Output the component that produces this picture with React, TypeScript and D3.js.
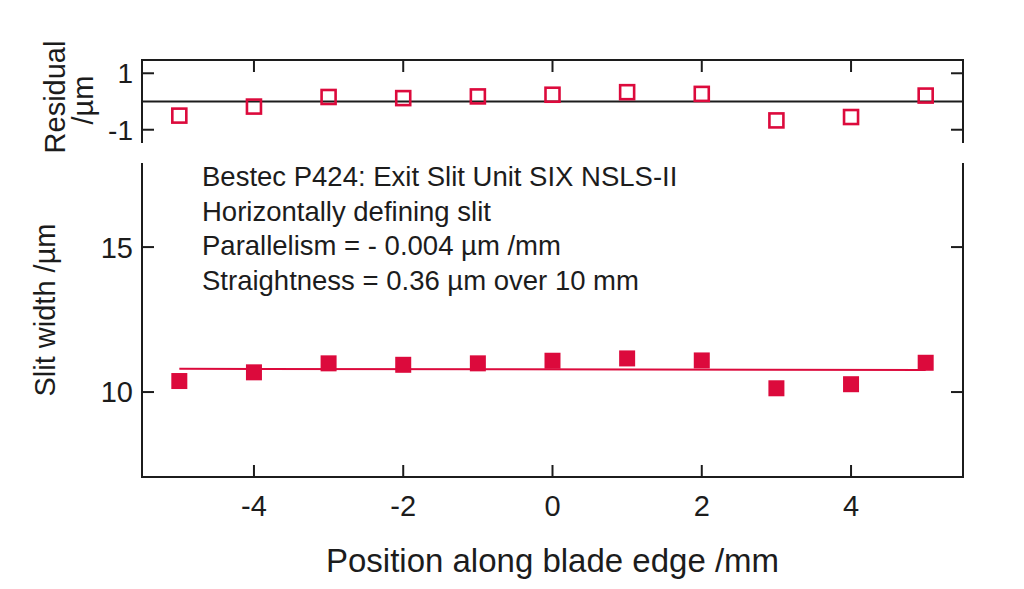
import React from "react";
import * as d3 from "d3";

const positions = [-5, -4, -3, -2, -1, 0, 1, 2, 3, 4, 5];
const slitWidth = [10.38, 10.68, 10.99, 10.94, 10.99, 11.08, 11.16, 11.09, 10.13, 10.27, 11.01];
const residuals = [-0.5, -0.18, 0.16, 0.12, 0.18, 0.24, 0.33, 0.27, -0.67, -0.55, 0.21];
const fitStart = { x: -5, y: 10.8 };
const fitEnd = { x: 5, y: 10.76 };
const xTicks = [-4, -2, 0, 2, 4];
const resTicks = [1, -1];
const widthTicks = [10, 15];
const annotations = [
  "Bestec P424: Exit Slit Unit SIX NSLS-II",
  "Horizontally defining slit",
  "Parallelism = - 0.004 µm /mm",
  "Straightness = 0.36 µm over 10 mm",
];

const RED = "#dc0a3c";
const INK = "#1c1c1c";
const FONT = "'Liberation Sans', Arial, sans-serif";

export default function App() {
  const W = 1024, H = 589;
  const x = d3.scaleLinear().domain([-5.5, 5.5]).range([142, 963]);
  const yr = d3.scaleLinear().domain([-1.47, 1.47]).range([143, 60]);
  const yb = d3.scaleLinear().domain([7.07, 17.9]).range([477, 163]);
  const [L, R] = x.range();
  const tick = 12;
  const sq = 16;
  const hs = 14;

  return (
    <svg width={W} height={H} style={{ position: "absolute", left: 0, top: 0, background: "#fff" }} fontFamily={FONT}>
      <rect width={W} height={H} fill="#fff" />
      {/* Residual panel frame */}
      <g stroke={INK} strokeWidth={2} fill="none">
        <path d={`M${L},${yr.range()[0]}V${yr.range()[1]}H${R}V${yr.range()[0]}`} />
        <line x1={L} x2={R} y1={yr(0)} y2={yr(0)} />
        {xTicks.map((t) => (
          <line key={"rt" + t} x1={x(t)} x2={x(t)} y1={yr.range()[1]} y2={yr.range()[1] + tick} />
        ))}
        {resTicks.map((t) => (
          <g key={"rl" + t}>
            <line x1={L} x2={L + tick} y1={yr(t)} y2={yr(t)} />
            <line x1={R} x2={R - tick} y1={yr(t)} y2={yr(t)} />
          </g>
        ))}
      </g>
      {resTicks.map((t) => (
        <text key={"rlab" + t} x={L - 9} y={yr(t)} dy="0.36em" textAnchor="end" fontSize={28} fill={INK}>
          {t}
        </text>
      ))}
      {positions.map((p, i) => (
        <rect
          key={"res" + p}
          x={x(p) - hs / 2}
          y={yr(residuals[i]) - hs / 2}
          width={hs}
          height={hs}
          fill="none"
          stroke={RED}
          strokeWidth={2.6}
        />
      ))}
      <text transform={`translate(65,97) rotate(-90)`} textAnchor="middle" fontSize={29} fill={INK}>
        Residual
      </text>
      <text transform={`translate(93,100) rotate(-90)`} textAnchor="middle" fontSize={29} fill={INK}>
        /µm
      </text>

      {/* Main panel frame */}
      <g stroke={INK} strokeWidth={2} fill="none">
        <path d={`M${L},${yb.range()[1]}V${yb.range()[0]}H${R}V${yb.range()[1]}`} />
        {xTicks.map((t) => (
          <line key={"bt" + t} x1={x(t)} x2={x(t)} y1={yb.range()[0]} y2={yb.range()[0] - tick} />
        ))}
        {widthTicks.map((t) => (
          <g key={"bl" + t}>
            <line x1={L} x2={L + tick} y1={yb(t)} y2={yb(t)} />
            <line x1={R} x2={R - tick} y1={yb(t)} y2={yb(t)} />
          </g>
        ))}
      </g>
      {widthTicks.map((t) => (
        <text key={"blab" + t} x={L - 9} y={yb(t)} dy="0.36em" textAnchor="end" fontSize={29} fill={INK}>
          {t}
        </text>
      ))}
      {xTicks.map((t) => (
        <text key={"xlab" + t} x={x(t)} y={yb.range()[0] + 39} textAnchor="middle" fontSize={29} fill={INK}>
          {t}
        </text>
      ))}
      <line x1={x(fitStart.x)} x2={x(fitEnd.x)} y1={yb(fitStart.y)} y2={yb(fitEnd.y)} stroke={RED} strokeWidth={2} />
      {positions.map((p, i) => (
        <rect key={"w" + p} x={x(p) - sq / 2} y={yb(slitWidth[i]) - sq / 2} width={sq} height={sq} fill={RED} />
      ))}
      {annotations.map((a, i) => (
        <text key={"a" + i} x={202} y={186 + i * 34.5} fontSize={27.5} fill={INK}>
          {a}
        </text>
      ))}
      <text transform={`translate(55,310) rotate(-90)`} textAnchor="middle" fontSize={29} fill={INK}>
        Slit width /µm
      </text>
      <text x={(L + R) / 2} y={572} textAnchor="middle" fontSize={33} fill={INK}>
        Position along blade edge /mm
      </text>
    </svg>
  );
}
